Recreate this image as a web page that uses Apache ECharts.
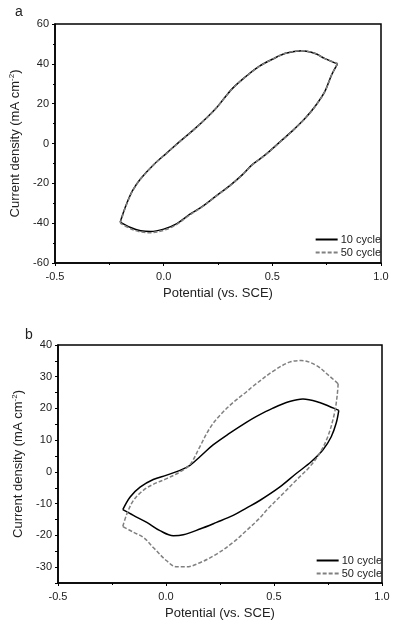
<!DOCTYPE html>
<html>
<head>
<meta charset="utf-8">
<script src="https://cdn.jsdelivr.net/npm/echarts@6/dist/echarts.min.js"></script>
<style>
html,body{margin:0;padding:0;background:#fff;}
#c{width:394px;height:626px;}
</style>
</head>
<body>
<div id="c"></div>
<script>
// ---- Data (Potential vs. SCE, Current density mA cm^-2) ----
const seriesNames = ['10 cycle', '50 cycle'];
const panelLabels = ['a', 'b'];
const xTicks = [-0.5, 0.0, 0.5, 1.0];
const yTicksA = [-60, -40, -20, 0, 20, 40, 60];
const yTicksB = [-30, -20, -10, 0, 10, 20, 30, 40];

// Panel a, 10 cycle
const a10Anodic = [[-0.2,-39.5],[-0.174,-31.3],[-0.144,-23.8],[-0.106,-17.7],[-0.045,-10.5],[0.015,-4.7],[0.076,1.2],[0.136,6.7],[0.197,12.8],[0.242,17.8],[0.273,22],[0.318,27.8],[0.379,33.7],[0.439,38.7],[0.5,42.3],[0.561,45.3],[0.636,46.6],[0.697,45.2],[0.742,42.6],[0.8,40]];
const a10Cathodic = [[0.8,40],[0.773,34.5],[0.742,26.2],[0.697,18.7],[0.652,12.8],[0.591,6.2],[0.53,0.3],[0.47,-5.5],[0.409,-10.5],[0.364,-15.5],[0.303,-21.3],[0.242,-26.3],[0.182,-31.3],[0.121,-35.5],[0.061,-40.2],[0,-43],[-0.061,-44.2],[-0.106,-43.8],[-0.152,-42.2],[-0.2,-39.5]];
// Panel a, 50 cycle
const a50Anodic = [[-0.2,-40],[-0.174,-31.6],[-0.144,-24],[-0.106,-17.8],[-0.045,-10.6],[0.015,-4.8],[0.076,1.1],[0.136,6.6],[0.197,12.7],[0.242,17.7],[0.273,21.9],[0.318,27.7],[0.379,33.6],[0.439,38.6],[0.5,42.3],[0.561,45.3],[0.636,46.6],[0.697,45.2],[0.742,42.6],[0.8,40.2]];
const a50Cathodic = [[0.8,40.2],[0.773,34.5],[0.742,26.2],[0.697,18.6],[0.652,12.7],[0.591,6.1],[0.53,0.2],[0.47,-5.6],[0.409,-10.6],[0.364,-15.6],[0.303,-21.4],[0.242,-26.4],[0.182,-31.5],[0.121,-35.8],[0.061,-40.6],[0,-43.6],[-0.061,-44.8],[-0.106,-44.4],[-0.152,-42.8],[-0.2,-40]];

// Panel b, 10 cycle
const b10Anodic = [[-0.2,-11.9],[-0.166,-7.9],[-0.12,-4.8],[-0.059,-2.4],[0.003,-1.0],[0.065,0.5],[0.111,2.1],[0.157,4.8],[0.218,8.5],[0.295,12.2],[0.372,15.6],[0.419,17.5],[0.495,20.1],[0.572,22.2],[0.634,23],[0.711,21.9],[0.765,20.4],[0.8,19.4]];
const b10Cathodic = [[0.8,19.4],[0.788,15.4],[0.765,11.1],[0.726,6.9],[0.672,3.2],[0.603,-0.5],[0.526,-4.8],[0.434,-9.0],[0.372,-11.4],[0.311,-13.7],[0.234,-15.9],[0.157,-18],[0.08,-19.8],[0.034,-20.1],[-0.028,-18.5],[-0.089,-15.9],[-0.151,-13.7],[-0.2,-11.9]];
// Panel b, 50 cycle
const b50Anodic = [[-0.2,-17.2],[-0.181,-13.2],[-0.151,-9.0],[-0.105,-5.8],[-0.059,-3.9],[0.003,-2.1],[0.065,0],[0.111,2.3],[0.157,8],[0.203,13.8],[0.249,17.8],[0.311,21.9],[0.372,25.2],[0.403,27],[0.495,31.7],[0.572,34.6],[0.626,35.1],[0.695,33.6],[0.757,30.2],[0.797,27.8]];
const b50Cathodic = [[0.797,27.8],[0.792,23.8],[0.78,18.5],[0.749,11.1],[0.711,5.8],[0.665,1.6],[0.603,-2.6],[0.541,-6.9],[0.472,-11.6],[0.43,-14.8],[0.372,-18.5],[0.311,-22.2],[0.234,-25.9],[0.157,-28.6],[0.095,-29.9],[0.049,-29.9],[0.003,-28],[-0.059,-23.8],[-0.105,-20.6],[-0.151,-19],[-0.2,-17.2]];

// ---- Chart ----
const FONT = "'Liberation Sans', Arial, sans-serif";
const chart = echarts.init(document.getElementById('c'), null, {renderer: 'canvas'});

function xAxisCfg(gi) {
  return {
    type: 'value', gridIndex: gi, min: -0.5, max: 1.0, interval: 0.5,
    name: 'Potential (vs. SCE)', nameLocation: 'middle', nameGap: 24,
    nameTextStyle: {fontFamily: FONT, fontSize: 13, color: '#222'},
    axisLine: {show: true, onZero: false, lineStyle: {color: '#000', width: 1.5}},
    axisTick: {show: true, inside: false, length: 3, lineStyle: {color: '#000', width: 1}},
    minorTick: {show: true, splitNumber: 2, length: 2, lineStyle: {color: '#000', width: 1}},
    axisLabel: {fontFamily: FONT, fontSize: 11, color: '#222', margin: 8,
      formatter: v => xTicks.indexOf(Math.round(v*10)/10) >= 0 ? v.toFixed(1) : ''},
    splitLine: {show: false}
  };
}
function yName() {
  return '{b|Current density (mA cm}{s|-2}{b|)}';
}
const yNameStyle = {
  fontFamily: FONT, fontSize: 13, color: '#222',
  rich: {
    b: {fontFamily: FONT, fontSize: 13, color: '#222', lineHeight: 15},
    s: {fontFamily: FONT, fontSize: 8, color: '#222', verticalAlign: 'top', lineHeight: 15}
  }
};

function mkSeries(name, data, xi, dashed) {
  return {
    name: name, type: 'line', xAxisIndex: xi, yAxisIndex: xi,
    data: data, smooth: 0.35, symbol: 'none', silent: true,
    lineStyle: dashed ? {color: '#808080', width: 1.5, type: [4, 2]} : {color: '#000', width: 1.5},
    itemStyle: {color: dashed ? '#808080' : '#000'},
    z: dashed ? 3 : 2
  };
}

const legendCfg = (top, right) => ({
  orient: 'vertical', right: right, top: top, padding: 0,
  itemWidth: 22, itemHeight: 10, itemGap: 2,
  icon: undefined,
  itemStyle: {opacity: 0},
  textStyle: {fontFamily: FONT, fontSize: 11, color: '#222', padding: [0,0,0,-2]},
  data: seriesNames, selectedMode: false
});

const option = {
  backgroundColor: '#fff',
  animation: false,
  title: [
    {text: panelLabels[0], left: 10, top: 0, textStyle: {fontFamily: FONT, fontSize: 14, fontWeight: 'normal', color: '#222'}},
    {text: panelLabels[1], left: 20, top: 323, textStyle: {fontFamily: FONT, fontSize: 14, fontWeight: 'normal', color: '#222'}}
  ],
  grid: [
    {left: 53, top: 24, width: 328, height: 239, show: true, borderColor: '#000', borderWidth: 1.5, backgroundColor: 'transparent'},
    {left: 58, top: 345, width: 324, height: 238, show: true, borderColor: '#000', borderWidth: 1.5, backgroundColor: 'transparent'}
  ],
  xAxis: [xAxisCfg(0), xAxisCfg(1)],
  yAxis: [
    {
      type: 'value', gridIndex: 0, min: -60, max: 60, interval: 20,
      name: yName(), nameLocation: 'middle', nameGap: 32, nameTextStyle: yNameStyle,
      axisLine: {show: true, onZero: false, lineStyle: {color: '#000', width: 1.5}},
      axisTick: {show: true, inside: false, length: 3, lineStyle: {color: '#000', width: 1}},
      minorTick: {show: true, splitNumber: 2, length: 2, lineStyle: {color: '#000', width: 1}},
      axisLabel: {fontFamily: FONT, fontSize: 11, color: '#222', margin: 6,
        formatter: v => yTicksA.indexOf(v) >= 0 ? String(v) : ''},
      splitLine: {show: false}
    },
    {
      type: 'value', gridIndex: 1, min: -35, max: 40, interval: 5,
      name: yName(), nameLocation: 'middle', nameGap: 32, nameTextStyle: yNameStyle,
      axisLine: {show: true, onZero: false, lineStyle: {color: '#000', width: 1.5}},
      axisTick: {show: true, inside: false, length: 3, lineStyle: {color: '#000', width: 1}},
      axisLabel: {fontFamily: FONT, fontSize: 11, color: '#222', margin: 6,
        formatter: v => yTicksB.indexOf(v) >= 0 ? String(v) : ''},
      splitLine: {show: false}
    }
  ],
  legend: [legendCfg(234, 13), legendCfg(555, 12)],
  series: [
    mkSeries(seriesNames[0], a10Anodic, 0, false),
    mkSeries(seriesNames[0], a10Cathodic, 0, false),
    mkSeries(seriesNames[1], a50Anodic, 0, true),
    mkSeries(seriesNames[1], a50Cathodic, 0, true),
    mkSeries(seriesNames[0], b10Anodic, 1, false),
    mkSeries(seriesNames[0], b10Cathodic, 1, false),
    mkSeries(seriesNames[1], b50Anodic, 1, true),
    mkSeries(seriesNames[1], b50Cathodic, 1, true)
  ]
};
// the second legend should only refer to the second panel; both share names
chart.setOption(option);
</script>
</body>
</html>
